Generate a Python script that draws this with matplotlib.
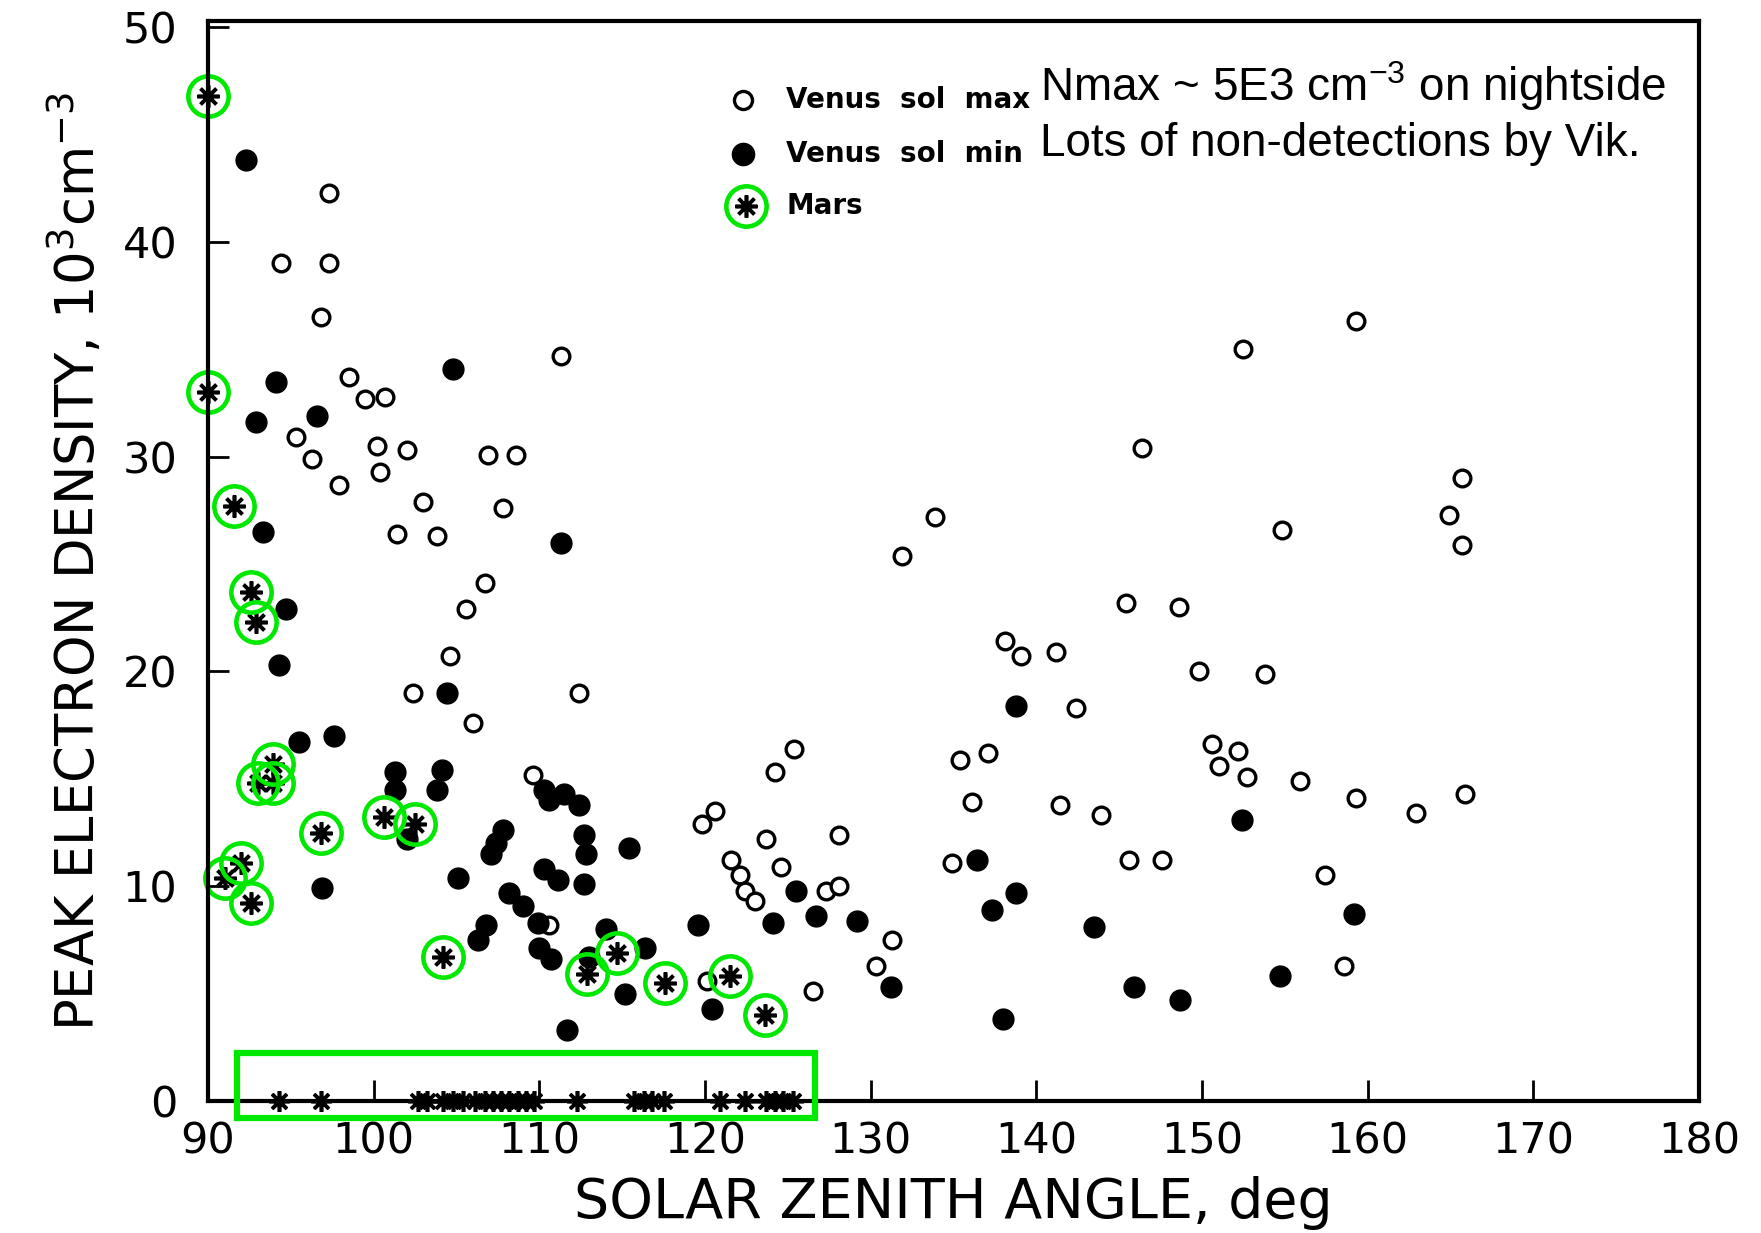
import matplotlib.pyplot as plt
from matplotlib.patches import Rectangle

# Venus, solar maximum (open circles)
venus_max_sza = [97.3, 94.4, 97.3, 96.8, 98.5, 99.5, 100.7, 95.3, 96.3, 100.2, 102.0, 97.9,
                 100.4, 103.0, 101.4, 103.8, 106.9, 108.6, 107.8, 111.3, 106.7, 105.6, 104.6,
                 102.4, 112.4, 106.0, 109.6, 110.6, 120.1, 119.8, 120.6, 121.6, 122.1, 122.4,
                 123.0, 123.7, 124.2, 125.4, 124.6, 127.3, 128.1, 128.1, 126.5, 131.3, 130.3,
                 131.9, 133.9, 135.4, 136.1, 137.1, 134.9, 138.1, 139.1, 141.2, 142.4, 141.4,
                 143.9, 145.4, 146.4, 145.6, 147.6, 148.6, 149.8, 150.6, 151.0, 152.2, 152.7,
                 152.5, 153.8, 154.8, 155.9, 157.4, 158.6, 159.3, 159.3, 162.9, 164.9, 165.7,
                 165.7, 165.9]
venus_max_ne = [42.3, 39.0, 39.0, 36.5, 33.7, 32.7, 32.8, 30.9, 29.9, 30.5, 30.3, 28.7,
                29.3, 27.9, 26.4, 26.3, 30.1, 30.1, 27.6, 34.7, 24.1, 22.9, 20.7,
                19.0, 19.0, 17.6, 15.2, 8.2, 5.6, 12.9, 13.5, 11.2, 10.5, 9.8,
                9.3, 12.2, 15.3, 16.4, 10.9, 9.8, 10.0, 12.4, 5.1, 7.5, 6.3,
                25.4, 27.2, 15.9, 13.9, 16.2, 11.1, 21.4, 20.7, 20.9, 18.3, 13.8,
                13.3, 23.2, 30.4, 11.2, 11.2, 23.0, 20.0, 16.6, 15.6, 16.3, 15.1,
                35.0, 19.9, 26.6, 14.9, 10.5, 6.3, 36.3, 14.1, 13.4, 27.3, 29.0,
                25.9, 14.3]

# Venus, solar minimum (filled circles)
venus_min_sza = [92.3, 94.1, 92.9, 96.6, 93.3, 94.7, 94.3, 95.5, 97.6, 96.9, 104.8, 111.3,
                 104.4, 101.3, 101.3, 104.1, 103.8, 102.0, 105.1, 106.3, 106.8, 107.1, 107.4,
                 107.8, 108.2, 109.0, 109.9, 110.0, 110.7, 110.3, 110.6, 111.5, 112.4, 110.3,
                 111.1, 112.7, 112.8, 112.7, 111.7, 113.0, 114.0, 115.2, 115.4, 116.4, 119.6,
                 120.4, 124.1, 125.5, 126.7, 129.2, 131.2, 136.4, 137.3, 138.8, 138.8, 138.0,
                 143.5, 145.9, 148.7, 152.4, 154.7, 159.2]
venus_min_ne = [43.8, 33.5, 31.6, 31.9, 26.5, 22.9, 20.3, 16.7, 17.0, 9.9, 34.1, 26.0,
                19.0, 15.3, 14.5, 15.4, 14.5, 12.2, 10.4, 7.5, 8.2, 11.5, 12.0,
                12.6, 9.7, 9.1, 8.3, 7.1, 6.6, 14.5, 14.0, 14.3, 13.8, 10.8,
                10.3, 12.4, 11.5, 10.1, 3.3, 6.7, 8.0, 5.0, 11.8, 7.1, 8.2,
                4.3, 8.3, 9.8, 8.6, 8.4, 5.3, 11.2, 8.9, 9.7, 18.4, 3.8,
                8.1, 5.3, 4.7, 13.1, 5.8, 8.7]

# Mars detections (asterisks, ringed in green)
mars_sza = [90.0, 90.0, 91.6, 92.6, 92.9, 93.9, 93.0, 93.9, 96.8, 92.0, 91.0, 92.6,
            100.6, 102.5, 104.2, 112.9, 114.7, 117.6, 121.5, 123.6]
mars_ne = [46.8, 33.0, 27.7, 23.7, 22.3, 15.7, 14.8, 14.8, 12.5, 11.1, 10.4, 9.2,
           13.2, 12.9, 6.7, 5.9, 6.9, 5.5, 5.8, 4.0]

# Mars non-detections by Viking (plotted at zero)
mars_zero_sza = [94.3, 96.8, 102.7, 103.2, 104.2, 104.8, 105.4, 106.1, 106.7, 107.2, 107.7,
                 108.2, 108.7, 109.2, 109.7, 112.3, 115.7, 116.3, 116.8, 117.5, 120.9,
                 122.4, 123.7, 124.2, 124.7, 125.3]

green = '#00e800'
asterisk = (8, 2, 0)

fig = plt.figure(figsize=(17.61, 12.33), dpi=100)
ax = fig.add_axes([0.1181, 0.1071, 0.8467, 0.876])

ax.plot(venus_max_sza, venus_max_ne, 'o', ms=12, mfc='white', mec='black', mew=2.4, ls='none')
ax.plot(venus_min_sza, venus_min_ne, 'o', ms=15, mfc='black', mec='black', ls='none')
ax.plot(mars_sza, mars_ne, marker=asterisk, ms=16, mec='black', mew=2.6, ls='none', clip_on=False)
ax.plot(mars_sza, mars_ne, 'o', ms=29, mfc='none', mec=green, mew=3.3, ls='none', clip_on=False)
ax.plot(mars_zero_sza, [0] * len(mars_zero_sza), marker=asterisk, ms=15, mec='black', mew=2.6,
        ls='none', clip_on=False, zorder=4)

# box around the non-detections
ax.add_patch(Rectangle((91.76, -0.78), 126.65 - 91.76, 3.03, fill=False, ec=green, lw=4.5,
                       clip_on=False, zorder=5))

ax.set_xlim(90, 180)
ax.set_ylim(0, 50.3)
ax.set_xticks(range(90, 181, 10))
ax.set_yticks(range(0, 51, 10))
ax.tick_params(direction='in', length=15, width=2, labelsize=31, colors='black')
ax.tick_params(axis='y', pad=22)
ax.tick_params(axis='x', pad=14)
for s in ax.spines.values():
    s.set_linewidth(3)

ax.set_xlabel('SOLAR ZENITH ANGLE, deg', fontsize=40, labelpad=10)
ax.set_ylabel(r'PEAK ELECTRON DENSITY, 10$^{\mathregular{3}}$cm$^{\mathregular{-3}}$',
              fontsize=38, labelpad=12)

# legend drawn by hand, as in the original figure
lx = 0.359
ax.plot(lx, 0.927, 'o', ms=13, mfc='white', mec='black', mew=2.4, transform=ax.transAxes, clip_on=False)
ax.plot(lx, 0.877, 'o', ms=16, mfc='black', mec='black', transform=ax.transAxes, clip_on=False)
ax.plot(lx + 0.002, 0.829, marker=asterisk, ms=16, mec='black', mew=2.6, transform=ax.transAxes, clip_on=False)
ax.plot(lx + 0.002, 0.829, 'o', ms=29, mfc='none', mec=green, mew=3.3, transform=ax.transAxes, clip_on=False)
for yy, lab in [(0.927, 'Venus  sol  max'), (0.877, 'Venus  sol  min'), (0.829, 'Mars')]:
    ax.text(0.388, yy, lab, fontsize=20, fontweight='bold', va='center', ha='left',
            transform=ax.transAxes)

ax.text(0.558, 0.94, r'Nmax ~ 5E3 cm$^{\mathregular{-3}}$ on nightside', fontsize=33,
        family='Liberation Sans', va='center', ha='left', transform=ax.transAxes)
ax.text(0.558, 0.886, 'Lots of non-detections by Vik.', fontsize=33,
        family='Liberation Sans', va='center', ha='left', transform=ax.transAxes)

fig.savefig('out.png', dpi=100)
